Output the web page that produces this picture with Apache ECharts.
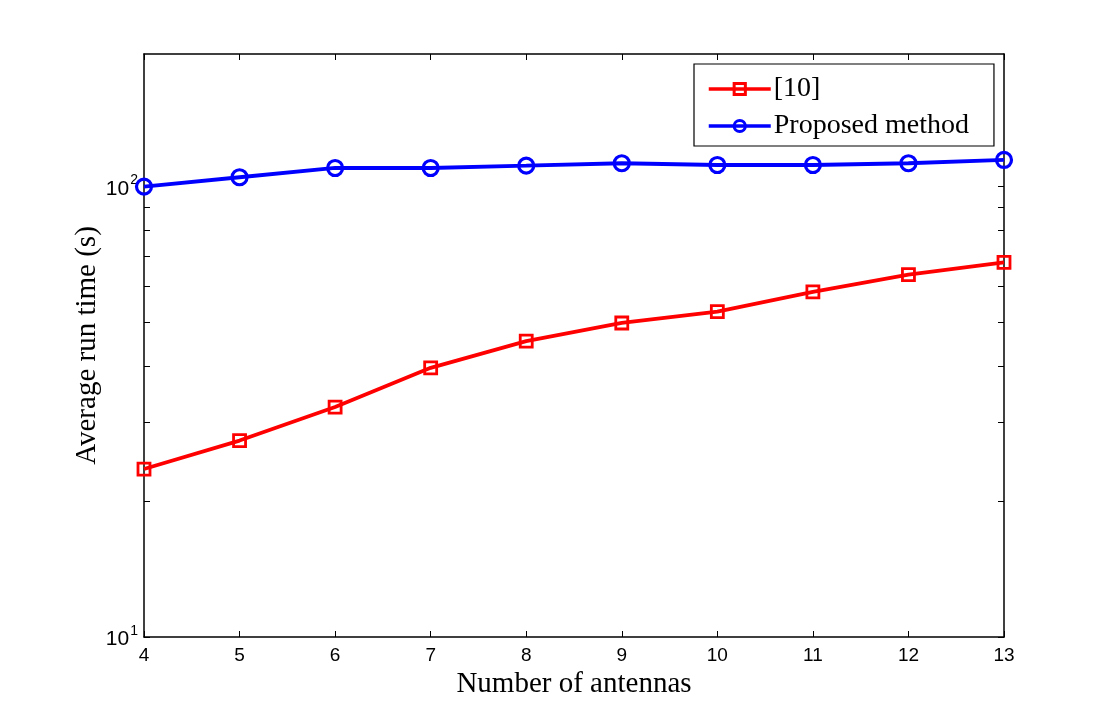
<!DOCTYPE html>
<html lang="en">
<head>
    <meta charset="UTF-8">
    <title>Average run time vs antennas</title>
    <script src="https://cdn.jsdelivr.net/npm/echarts@6/dist/echarts.min.js"></script>
    <style>
        html, body, #chart {
            width: 1109px;
            height: 719px;
            padding: 0;
            margin: 0;
            background: #fff;
        }
    </style>
</head>
<body>
<div id="chart"></div>
<script>
    var antennas = [4, 5, 6, 7, 8, 9, 10, 11, 12, 13];
    var ref10 = [23.6, 27.3, 32.4, 39.6, 45.4, 49.8, 52.8, 58.4, 63.8, 67.9];
    var proposed = [100, 104.9, 110.0, 110.0, 111.3, 112.7, 111.7, 111.7, 112.7, 114.6];
    var minorTicks = [10, 20, 30, 40, 50, 60, 70, 80, 90, 100];
    var majorTicks = [10, 100];

    var myChart = echarts.init(document.getElementById("chart"));

    var tickFont = "Liberation Sans";
    var serif = "Liberation Serif";

    function pairs(ys) {
        return antennas.map(function (x, i) { return [x, ys[i]]; });
    }

    function xAxis(pos, show) {
        return {
            type: "value",
            position: pos,
            min: 4,
            max: 13,
            interval: 1,
            name: show ? "Number of antennas" : "",
            nameLocation: "middle",
            nameGap: 33,
            nameTextStyle: {fontFamily: serif, fontSize: 29, color: "#000"},
            axisLine: {show: true, onZero: false, lineStyle: {color: "#000", width: 1.5}},
            axisTick: {show: true, inside: true, length: 6, lineStyle: {color: "#000"}},
            axisLabel: {show: show, fontFamily: tickFont, fontSize: 19, color: "#000", margin: 9},
            splitLine: {show: false}
        };
    }

    function yAxis(pos, show) {
        return {
            type: "log",
            logBase: 10,
            position: pos,
            min: 10,
            max: 197,
            name: show ? "Average run time (s)" : "",
            nameLocation: "middle",
            nameGap: 42,
            nameMoveOverlap: false,
            nameTextStyle: {fontFamily: serif, fontSize: 29, color: "#000"},
            axisLine: {show: true, onZero: false, lineStyle: {color: "#000", width: 1.5}},
            axisTick: {show: true, inside: true, length: 6, customValues: minorTicks, lineStyle: {color: "#000"}},
            axisLabel: {
                show: show,
                customValues: majorTicks,
                margin: 6,
                formatter: function (v) {
                    return "{b|10}{s|" + Math.round(Math.log10(v)) + "}";
                },
                rich: {
                    b: {fontFamily: tickFont, fontSize: 21, color: "#000", verticalAlign: "bottom"},
                    s: {fontFamily: tickFont, fontSize: 14, color: "#000", verticalAlign: "top", padding: [0, 0, 12, 1]}
                }
            },
            splitLine: {show: false}
        };
    }

    myChart.setOption({
        animation: false,
        backgroundColor: "#fff",
        grid: {left: 144, right: 105, top: 54, bottom: 82},
        legend: {
            orient: "vertical",
            left: 694,
            top: 64,
            padding: [11, 25, 6, 13],
            itemGap: 9,
            itemWidth: 62,
            itemHeight: 14,
            borderColor: "#000",
            borderWidth: 1.2,
            backgroundColor: "#fff",
            borderRadius: 0,
            textStyle: {fontFamily: serif, fontSize: 28, color: "#000", padding: [0, 0, 0, -2]},
            data: [
                {name: "[10]", lineStyle: {width: 3.5}, itemStyle: {borderWidth: 3}},
                {name: "Proposed method", lineStyle: {width: 3.5}, itemStyle: {borderWidth: 3}}
            ]
        },
        xAxis: [xAxis("bottom", true), xAxis("top", false)],
        yAxis: [yAxis("left", true), yAxis("right", false)],
        series: [{
            name: "[10]",
            type: "line",
            data: pairs(ref10),
            symbol: "rect",
            symbolSize: 12,
            lineStyle: {color: "#ff0000", width: 3.8},
            itemStyle: {color: "rgba(255,255,255,0)", borderColor: "#ff0000", borderWidth: 2.8},
            z: 3
        }, {
            name: "Proposed method",
            type: "line",
            data: pairs(proposed),
            symbol: "circle",
            symbolSize: 15,
            lineStyle: {color: "#0000ff", width: 3.8},
            itemStyle: {color: "rgba(255,255,255,0)", borderColor: "#0000ff", borderWidth: 3.2},
            z: 3
        }]
    });
</script>
</body>
</html>
